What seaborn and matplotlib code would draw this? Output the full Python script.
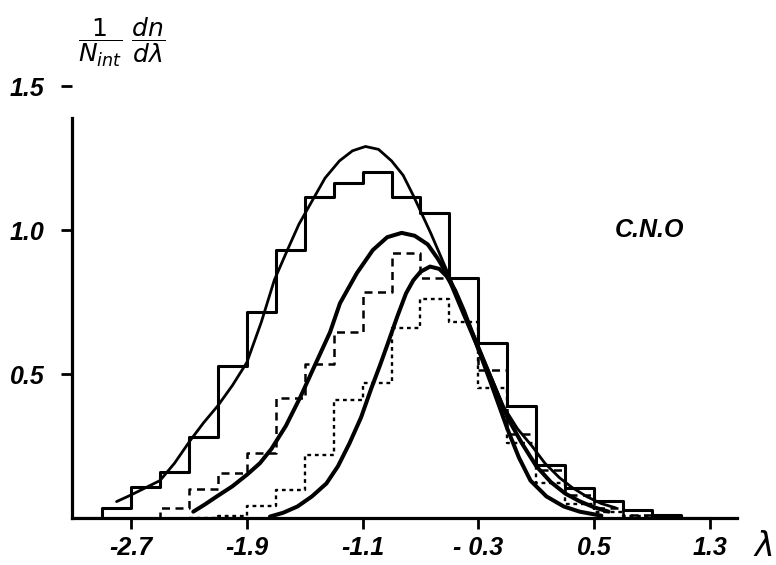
import numpy as np
import pandas as pd
import seaborn as sns
import matplotlib
matplotlib.use("Agg")
import matplotlib.pyplot as plt

# ---------------- data ----------------
# histogram bin edges (width 0.2); empty bins at both ends are zero
solid_edges = [-3.1, -2.9, -2.7, -2.5, -2.3, -2.1, -1.9, -1.7, -1.5, -1.3, -1.1, -0.9,
               -0.7, -0.5, -0.3, -0.1, 0.1, 0.3, 0.5, 0.7, 0.9, 1.1, 1.3]
solid_vals = [0.0, 0.036, 0.109, 0.161, 0.282, 0.528, 0.716, 0.93, 1.116, 1.163, 1.20,
              1.116, 1.06, 0.833, 0.607, 0.389, 0.184, 0.104, 0.06, 0.028, 0.01, 0.0]

dashed_edges = [-2.7, -2.5, -2.3, -2.1, -1.9, -1.7, -1.5, -1.3, -1.1, -0.9, -0.7, -0.5,
                -0.3, -0.1, 0.1, 0.3, 0.5, 0.7, 0.9, 1.1]
dashed_vals = [0.0, 0.036, 0.10, 0.157, 0.227, 0.417, 0.535, 0.647, 0.786, 0.92, 0.833,
               0.833, 0.514, 0.29, 0.167, 0.08, 0.035, 0.01, 0.0]

dotted_edges = [-2.3, -2.1, -1.9, -1.7, -1.5, -1.3, -1.1, -0.9, -0.7, -0.5, -0.3, -0.1,
                0.1, 0.3, 0.5, 0.7, 0.9, 1.1]
dotted_vals = [0.0, 0.006, 0.04, 0.097, 0.219, 0.41, 0.47, 0.66, 0.76, 0.68, 0.45, 0.26,
               0.12, 0.05, 0.02, 0.008, 0.0]

# smooth fitted curves
curve1_x = [-2.80, -2.70, -2.60, -2.50, -2.40, -2.29, -2.20, -2.10, -2.00, -1.90,
            -1.80, -1.71, -1.62, -1.54, -1.45, -1.36, -1.26, -1.17, -1.08, -0.99,
            -0.90, -0.82, -0.75, -0.63, -0.51, -0.41, -0.31, -0.22, -0.13, -0.03,
            0.07, 0.16, 0.26, 0.35, 0.45, 0.55, 0.65]
curve1_y = [0.057, 0.08, 0.105, 0.13, 0.19, 0.27, 0.33, 0.39, 0.46, 0.54,
            0.68, 0.826, 0.93, 1.02, 1.10, 1.18, 1.24, 1.275, 1.29, 1.28,
            1.24, 1.19, 1.12, 0.99, 0.85, 0.73, 0.61, 0.50, 0.39, 0.31,
            0.25, 0.19, 0.14, 0.105, 0.074, 0.05, 0.035]

curve2_x = [-2.27, -2.19, -2.11, -2.00, -1.90, -1.81, -1.73, -1.63, -1.53, -1.43,
            -1.325, -1.256, -1.14, -1.03, -0.93, -0.83, -0.74, -0.65, -0.58, -0.52,
            -0.42, -0.31, -0.20, -0.10, 0.00, 0.10, 0.20, 0.30, 0.40, 0.50, 0.60]
curve2_y = [0.022, 0.047, 0.074, 0.11, 0.15, 0.19, 0.24, 0.32, 0.42, 0.53,
            0.645, 0.746, 0.85, 0.93, 0.975, 0.99, 0.98, 0.95, 0.90, 0.85,
            0.73, 0.60, 0.47, 0.35, 0.26, 0.18, 0.125, 0.085, 0.058, 0.037, 0.022]

curve3_x = [-1.74, -1.65, -1.55, -1.45, -1.35, -1.27, -1.19, -1.11, -1.04, -0.98,
            -0.93, -0.86, -0.80, -0.75, -0.70, -0.634, -0.57, -0.52, -0.46, -0.40,
            -0.31, -0.20, -0.10, -0.02, 0.06, 0.17, 0.29, 0.40, 0.55]
curve3_y = [0.005, 0.018, 0.04, 0.075, 0.12, 0.18, 0.26, 0.35, 0.45, 0.53,
            0.60, 0.70, 0.78, 0.825, 0.855, 0.873, 0.865, 0.84, 0.79, 0.72,
            0.60, 0.45, 0.31, 0.21, 0.13, 0.075, 0.04, 0.022, 0.008]

xtick_vals = [-2.7, -1.9, -1.1, -0.3, 0.5, 1.3]
xtick_labels = ["-2.7", "-1.9", "-1.1", "- 0.3", "0.5", "1.3"]
ytick_vals = [0.5, 1.0, 1.5]
ytick_labels = ["0.5", "1.0", "1.5"]
panel_label = "C.N.O"

# ---------------- figure ----------------
sns.set_theme(style="white")
plt.rcParams['font.family'] = ['Liberation Sans', 'DejaVu Sans']
plt.rcParams['mathtext.fontset'] = 'dejavusans'
plt.rcParams['text.color'] = 'black'
plt.rcParams['xtick.color'] = 'black'
plt.rcParams['ytick.color'] = 'black'
plt.rcParams['axes.labelcolor'] = 'black'

W, H = 776, 565
fig = plt.figure(figsize=(W / 100, H / 100), dpi=100)
ax = fig.add_axes([72 / W, (H - 518) / H, (737 - 72) / W, (518 - 86) / H])


def centers(edges):
    return [(edges[i] + edges[i + 1]) / 2 for i in range(len(edges) - 1)]


def hist(edges, vals, ls, lw):
    df = pd.DataFrame({"x": centers(edges), "w": vals})
    sns.histplot(data=df, x="x", weights="w", bins=edges, element="step",
                 fill=False, color="black", linewidth=lw, linestyle=ls, ax=ax)


hist(solid_edges, solid_vals, "-", 2.2)
hist(dashed_edges, dashed_vals, (0, (3.2, 2.2)), 1.8)
hist(dotted_edges, dotted_vals, (0, (1.6, 1.6)), 1.7)

for cx, cy, lw in [(curve1_x, curve1_y, 2.0), (curve2_x, curve2_y, 2.9),
                   (curve3_x, curve3_y, 2.9)]:
    sns.lineplot(x=cx, y=cy, sort=False, color="black", linewidth=lw, ax=ax,
                 solid_capstyle="round", solid_joinstyle="round")

ax.set_xlim(-3.108, 1.487)
ax.set_ylim(0, 1.5)
ax.set_xlabel("")
ax.set_ylabel("")

tick_font = dict(fontsize=18, style="italic", weight="bold", color="black")
ax.set_xticks(xtick_vals)
ax.set_xticklabels(xtick_labels, **tick_font)
ax.set_yticks(ytick_vals)
ax.set_yticklabels(ytick_labels, **tick_font)
ax.tick_params(axis="both", direction="out", length=8, width=2, color="black",
               bottom=True, left=True)
ax.tick_params(axis="x", pad=5)
ax.tick_params(axis="y", pad=12)

for s in ["top", "right"]:
    ax.spines[s].set_visible(False)
for s in ["left", "bottom"]:
    ax.spines[s].set_color("black")
    ax.spines[s].set_linewidth(2.3)
ax.spines["left"].set_bounds(0, 1.39)

ax.text(0.885, 1.0, panel_label, fontsize=18, style="italic", weight="bold",
        ha="center", va="center", color="black")

fig.text(122 / W, 1 - 42 / H, r"$\dfrac{1}{N_{int}}\ \dfrac{dn}{d\lambda}$",
         fontsize=18, ha="center", va="center", color="black")
fig.text(763 / W, 1 - 547 / H, r"$\lambda$", fontsize=24, ha="center",
         va="center", color="black")

fig.savefig("out.png", dpi=100)
